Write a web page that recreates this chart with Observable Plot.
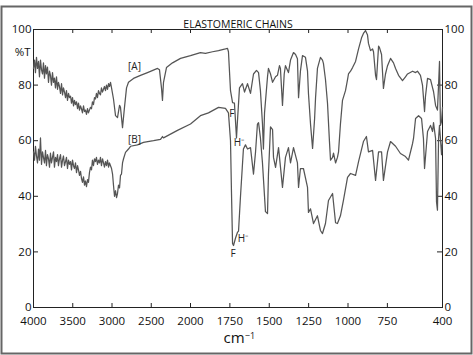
<!DOCTYPE html>
<html>
<head>
<meta charset="utf-8">
<script src="https://cdn.jsdelivr.net/npm/d3@7"></script>
<script src="https://cdn.jsdelivr.net/npm/@observablehq/plot@0.6"></script>
<style>
  html, body { margin: 0; padding: 0; background: #fff; }
</style>
</head>
<body>
<div id="chart"></div>
<script>
// Spectrum [A] : wavenumber (cm-1) and %T
const wnA = [4000,3987,3975,3962,3949,3936,3924,3911,3898,3885,3873,3860,3847,3835,3822,3809,3796,3784,3771,3758,3745,3733,3720,3707,3694,3682,3669,3656,3643,3630,3618,3605,3592,3580,3567,3554,3541,3528,3516,3503,3490,3478,3465,3452,3439,3427,3414,3401,3389,3376,3363,3350,3338,3325,3312,3300,3287,3274,3261,3249,3236,3223,3210,3198,3185,3172,3159,3147,3134,3121,3108,3096,3083,3070,3057,3044,3032,3019,3006,
  2981,2955,2930,2904,2892,2866,2841,2815,2790,2726,2637,2548,2420,2395,2369,2357,2344,2306,2229,2127,2000,1937,1905,1860,1822,1778,1765,1759,1746,1733,1721,1708,1702,1689,1670,1657,1638,1619,1600,1581,1568,1556,1543,1537,1530,1511,1505,1492,1479,1460,1448,1435,1429,1416,1405,1397,1378,1365,1346,1333,1321,1314,1302,1289,1270,1257,1251,1238,1225,1212,1206,1194,1175,1162,1156,1143,1130,1118,1111,1098,1092,1079,1067,1060,1048,1035,1016,1003,997,984,971,952,933,914,902,889,876,870,857,844,838,825,819,806,800,787,775,762,749,730,711,698,679,654,635,622,590,571,559,540,527,514,508,495,476,463,457,444,432,425,419,413,406,400];
const tA = [86,89,84.5,90,86,88.5,83,89,85.5,84,88,82.5,87,84,86.5,81,85,83.5,80,84.5,81,82.5,79,83,78.5,81,79.5,77,80.5,76.5,79,77.5,75.5,78,74.5,77,75.5,76,73.5,75.5,72.5,74.5,73,74,71.5,73.5,71,72.5,71.5,70,72.5,70.5,71,69.5,71.5,70,71,72,71.5,74,73,75.5,75,77,75.5,78,77,76.5,79,77.5,78.5,79.5,78,80,78.5,80.5,79.5,81,79,
  75,69,68.3,72.7,72,64.7,72,79,81,82.4,83.5,84.5,86,85.5,78.8,74.5,81,86.3,88,89.6,90.6,91.7,91.4,92,92.4,93,93.2,92,78,73.7,73.5,61,67,79,80.5,77.5,80.5,77,84,85.3,84.5,78,66,57,70,83,86,84,81,83,83.5,87,86,72.7,84,87,84.5,89,91.7,91,89.5,75.5,85,90.6,90,85,77,66,57.2,68,75.5,86,90,89,87.8,82,73.4,60,53,54,55.5,52,54,56,66,74.5,78,82,84,85,86.3,88.5,93,97,98.6,99.6,98,95,92.4,93,92,83.5,82,94,93.5,91,78.8,84,87,89.6,88,86,83.5,81.6,83,84,85,84.5,85,83.5,80,70.5,76,82.4,82,79,77.7,72.7,71,80,88.5,65.5,67,72];

// Spectrum [B]
const wnB = [4000,3987,3975,3962,3949,3936,3924,3911,3898,3885,3873,3860,3847,3835,3822,3809,3796,3784,3771,3758,3745,3733,3720,3707,3694,3682,3669,3656,3643,3630,3618,3605,3592,3580,3567,3554,3541,3528,3516,3503,3490,3478,3465,3452,3439,3427,3414,3401,3389,3376,3363,3350,3338,3325,3312,3300,3287,3274,3261,3249,3236,3223,3210,3198,3185,3172,3159,3147,3134,3121,3108,3096,3083,3070,3057,3044,3032,3019,3006,
  2993,2981,2968,2955,2942,2930,2917,2904,2892,2879,2866,2853,2828,2790,2764,2675,2599,2471,2382,2357,2344,2166,2000,1937,1886,1822,1778,1759,1746,1740,1733,1727,1714,1702,1695,1683,1664,1651,1638,1619,1600,1587,1575,1568,1556,1543,1524,1511,1505,1492,1479,1473,1460,1441,1416,1397,1378,1365,1346,1321,1314,1302,1283,1257,1251,1238,1219,1194,1175,1162,1143,1124,1098,1079,1067,1048,1029,1003,984,952,933,902,883,870,844,825,806,787,775,749,730,698,667,635,616,590,584,571,552,533,521,514,495,476,463,457,444,438,432,425,419,406,400];
const tB = [56,53,58,54.5,52,57,53,61,51.5,56,54,52,56.5,51,55,53.5,50.5,55.5,52,54,56,50.5,54,52.5,55,51,53.5,55,50.5,53,54.5,51,52.5,54,50,53,51.5,52.5,49.5,53,51,50,52,48.5,51,49.5,47.5,49,46.5,45,47,44,45.5,43.5,46,45,48.5,50.5,49.5,53,51,53.5,52.5,54,51.5,53,52,54,51,53.5,52,50.5,52.5,51,53,50.5,52,51,50,
  48,44,40,42,39.5,41,44,43,47.5,48,52,53.5,55.8,57,58,58.5,59.4,60,60.5,61.5,61,63.7,66,69,70,72,71.6,70,60,42,23,22.3,25,27,27.5,39.6,57,58.5,57,57.5,48,56,66,66.5,61,52,34.5,33.8,48,65,64,54,50.4,57.5,43.2,54,57.5,52,57.5,52,43.2,50,50,43.2,34.2,35.5,30.2,33,27.7,26.6,30.2,38.5,41,30.5,30.2,33,38.5,46.8,48.2,47.5,52.5,59.7,61.5,56,56.5,45.7,56,56,45.7,56,59.7,58,55.4,54.3,53,59,60.8,68,69,68,60.8,50,63.3,65.5,63.3,66.5,60.8,38,35,60.8,65.5,55,60];

// Axis ticks
const xTicks = [4000,3500,3000,2500,2000,1750,1500,1250,1000,750,400];
const yTicks = [0,20,40,60,80,100];

// Annotations
const labelText = ["[A]","[B]","F","H\u207B","F","H\u207B"];
const labelWn   = [2713, 2713, 1737, 1692, 1730, 1667];
const labelT    = [85.5, 59, 68.5, 58, 18, 23.5];

const title = "ELASTOMERIC CHAINS";

const dataA = wnA.map((w, i) => ({wn: w, t: tA[i]}));
const dataB = wnB.map((w, i) => ({wn: w, t: tB[i]}));
const labels = labelText.map((s, i) => ({s, wn: labelWn[i], t: labelT[i]}));
const innerX = xTicks.filter(d => d !== 4000 && d !== 400);
const innerY = yTicks.filter(d => d !== 0 && d !== 100);

const lineColor = "#555";

const chart = Plot.plot({
  width: 473,
  height: 355,
  marginLeft: 33,
  marginRight: 31,
  marginTop: 29,
  marginBottom: 48,
  style: {fontFamily: "'Open Sans', sans-serif", fontSize: "11px", background: "#fff", color: "#111"},
  x: {type: "linear", domain: [4000, 2000, 400], range: [33, 190, 442]},
  y: {domain: [0, 100]},
  marks: [
    Plot.frame({stroke: "#666", strokeWidth: 2, insetLeft: -32, insetTop: -23, insetRight: -29, insetBottom: -46}),
    Plot.frame({stroke: "#222", strokeWidth: 1}),
    Plot.tickX(innerX, {x: d => d, insetTop: 274, stroke: "#222"}),
    Plot.tickX(innerX, {x: d => d, insetBottom: 274, stroke: "#222"}),
    Plot.tickY(innerY, {y: d => d, insetRight: 404, stroke: "#222"}),
    Plot.tickY(innerY, {y: d => d, insetLeft: 404, stroke: "#222"}),
    Plot.axisX({anchor: "bottom", ticks: xTicks, tickSize: 0, tickPadding: 9, tickFormat: d => String(d), label: null, fontSize: 11.5}),
    Plot.axisY({anchor: "left", ticks: yTicks, tickSize: 0, tickPadding: 2, label: null, fontSize: 11.5}),
    Plot.axisY({anchor: "right", ticks: yTicks, tickSize: 0, tickPadding: 2, label: null, fontSize: 11.5}),
    Plot.line(dataA, {x: "wn", y: "t", stroke: lineColor, strokeWidth: 1.25}),
    Plot.line(dataB, {x: "wn", y: "t", stroke: lineColor, strokeWidth: 1.25}),
    Plot.text(labels, {x: "wn", y: "t", text: "s", fontSize: 10, fill: "#222", textAnchor: "middle", lineAnchor: "bottom"}),
    Plot.text([title], {frameAnchor: "top", text: d => d, dy: -9, fontSize: 10.5, fill: "#111"}),
    Plot.text(["%T"], {frameAnchor: "top-left", text: d => d, textAnchor: "end", dx: -3, dy: 18, fontSize: 11.5, fill: "#111"}),
    Plot.text(["cm"], {frameAnchor: "bottom", text: d => d, dx: -4, dy: 35, fontSize: 15, fill: "#111"}),
    Plot.text(["\u22121"], {frameAnchor: "bottom", text: d => d, dx: 12, dy: 31, fontSize: 9, fill: "#111"})
  ]
});

document.getElementById("chart").appendChild(chart);
</script>
</body>
</html>
